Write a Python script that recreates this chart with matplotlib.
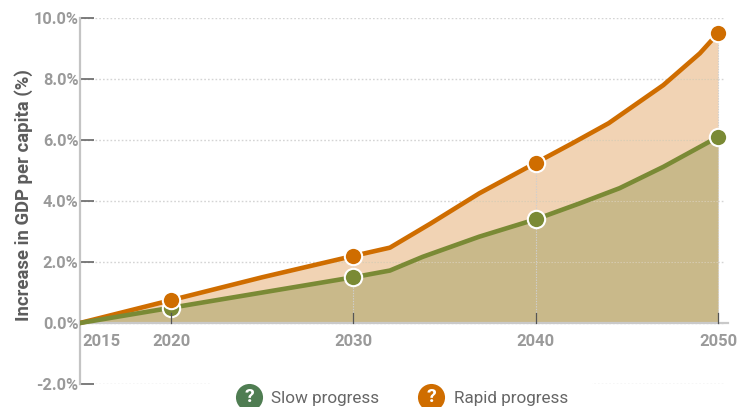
import matplotlib
matplotlib.use("Agg")
from matplotlib import pyplot as plt
from matplotlib.lines import Line2D
from matplotlib.patches import Rectangle

plt.rcParams['font.family'] = ['Roboto', 'DejaVu Sans']

W, H = 738, 407

# values
slow_years = [2015, 2020, 2025, 2030, 2032, 2033.8, 2036.9, 2040, 2042.4, 2044.6, 2047, 2050]
slow_vals = [0, 0.5, 1.0, 1.5, 1.72, 2.17, 2.83, 3.4, 3.92, 4.42, 5.12, 6.1]
rapid_years = [2015, 2020, 2025, 2030, 2032, 2034.2, 2036.9, 2040, 2042, 2044, 2047, 2049, 2050]
rapid_vals = [0, 0.75, 1.5, 2.2, 2.47, 3.25, 4.25, 5.25, 5.89, 6.55, 7.8, 8.84, 9.5]
dot_years = [2020, 2030, 2040, 2050]
slow_dots = [0.5, 1.5, 3.4, 6.1]
rapid_dots = [0.75, 2.2, 5.25, 9.5]
y_ticks = [-2, 0, 2, 4, 6, 8, 10]
x_ticks = [2015, 2020, 2030, 2040, 2050]

GREEN = '#7a8a35'
ORANGE = '#cf6d00'
GREY = '#9a9a9a'


def fx(px):
    return px / W


def fy(px):
    return 1 - px / H


fig = plt.figure(figsize=(W / 100, H / 100), dpi=100)
# axes box: x 80..728 px, y 18..384 px
ax = fig.add_axes([fx(80), fy(384), (728 - 80) / W, (384 - 18) / H])
ax.set_xlim(2015, 2015 + (728 - 80) / 18.23)
ax.set_ylim(-2, 10)

# dotted grid
for v in y_ticks:
    ax.plot([2015, 2050.35], [v, v], color='#d4d4d4', lw=1, ls=(0, (1.2, 1.5)), zorder=1)

# areas
rapid_area = ax.fill_between(rapid_years, rapid_vals, color='#f1d3b4', lw=0, zorder=2)
ax.fill_between(slow_years, slow_vals, color='#c9b98a', lw=0, zorder=3)

# grid shows faintly through the fill, only inside the area
for v in y_ticks[2:]:
    faint, = ax.plot([2015, 2050], [v, v], color='#d8cdb4', lw=0.8, ls=(0, (1.2, 1.5)), zorder=3.5)
    faint.set_clip_path(rapid_area.get_paths()[0], rapid_area.get_transform())

# year guide lines
for yr, top in zip(dot_years, rapid_dots):
    ax.plot([yr, yr], [0, top], color='#cfcfcf', lw=0.8, ls=(0, (1.2, 1.2)), zorder=4)

ax.plot(rapid_years, rapid_vals, color=ORANGE, lw=3.3, zorder=5, solid_capstyle='round')
ax.plot(slow_years, slow_vals, color=GREEN, lw=3.3, zorder=6, solid_capstyle='round')

ax.plot(dot_years, slow_dots, 'o', ms=12.5, mfc=GREEN, mec='white', mew=1.5, zorder=7, clip_on=False)
ax.plot(dot_years, rapid_dots, 'o', ms=12.5, mfc=ORANGE, mec='white', mew=1.5, zorder=8, clip_on=False)

# axes
for s in ['top', 'right', 'bottom']:
    ax.spines[s].set_visible(False)
ax.spines['left'].set_color('#c4c4c4')
ax.spines['left'].set_linewidth(1.6)
ax.plot([2015, 2050.55], [0, 0], color='#c9c9c9', lw=1.6, zorder=4, clip_on=False)

ax.set_yticks(y_ticks)
ax.set_yticklabels(['%.1f%%' % v for v in y_ticks])
ax.tick_params(axis='y', direction='in', length=10, width=1.2, color='#666666', pad=1,
               labelsize=11.8, labelcolor=GREY)
ax.set_xticks([])
for t in ax.get_yticklabels():
    t.set_fontweight('bold')

# short dark ticks rising from the zero line
for yr in dot_years:
    ax.plot([yr, yr], [0, 0.33], color='#555555', lw=0.9, zorder=9)

for yr in x_ticks:
    xpos = yr if yr != 2015 else 2016.15
    ax.text(xpos, -0.62, str(yr), ha='center', va='center', fontsize=12, fontweight='bold',
            color=GREY, zorder=10, clip_on=False)

fig.text(fx(24), fy(195), 'Increase in GDP per capita (%)', rotation=90, ha='center', va='center',
         fontsize=13.3, fontweight='bold', color='#5c5c5c')

# legend, white box hides the lowest grid line
fig.add_artist(Rectangle((fx(210), 0), (592 - 210) / W, fy(376), transform=fig.transFigure,
                         fc='white', ec='none', zorder=5))
for cx, tx, col, label in [(249, 271, '#4f7d52', 'Slow progress'), (431, 454, ORANGE, 'Rapid progress')]:
    fig.add_artist(Line2D([fx(cx)], [fy(397)], marker='o', ms=19.5, mfc=col, mec='none', ls='none',
                          transform=fig.transFigure, zorder=6))
    fig.text(fx(cx), fy(397), '?', ha='center', va='center', color='white', fontsize=14,
             fontweight='bold', zorder=7)
    fig.text(fx(tx), fy(398), label, ha='left', va='center', color='#666666', fontsize=12.3, zorder=7)

fig.savefig('out.png', dpi=100)
